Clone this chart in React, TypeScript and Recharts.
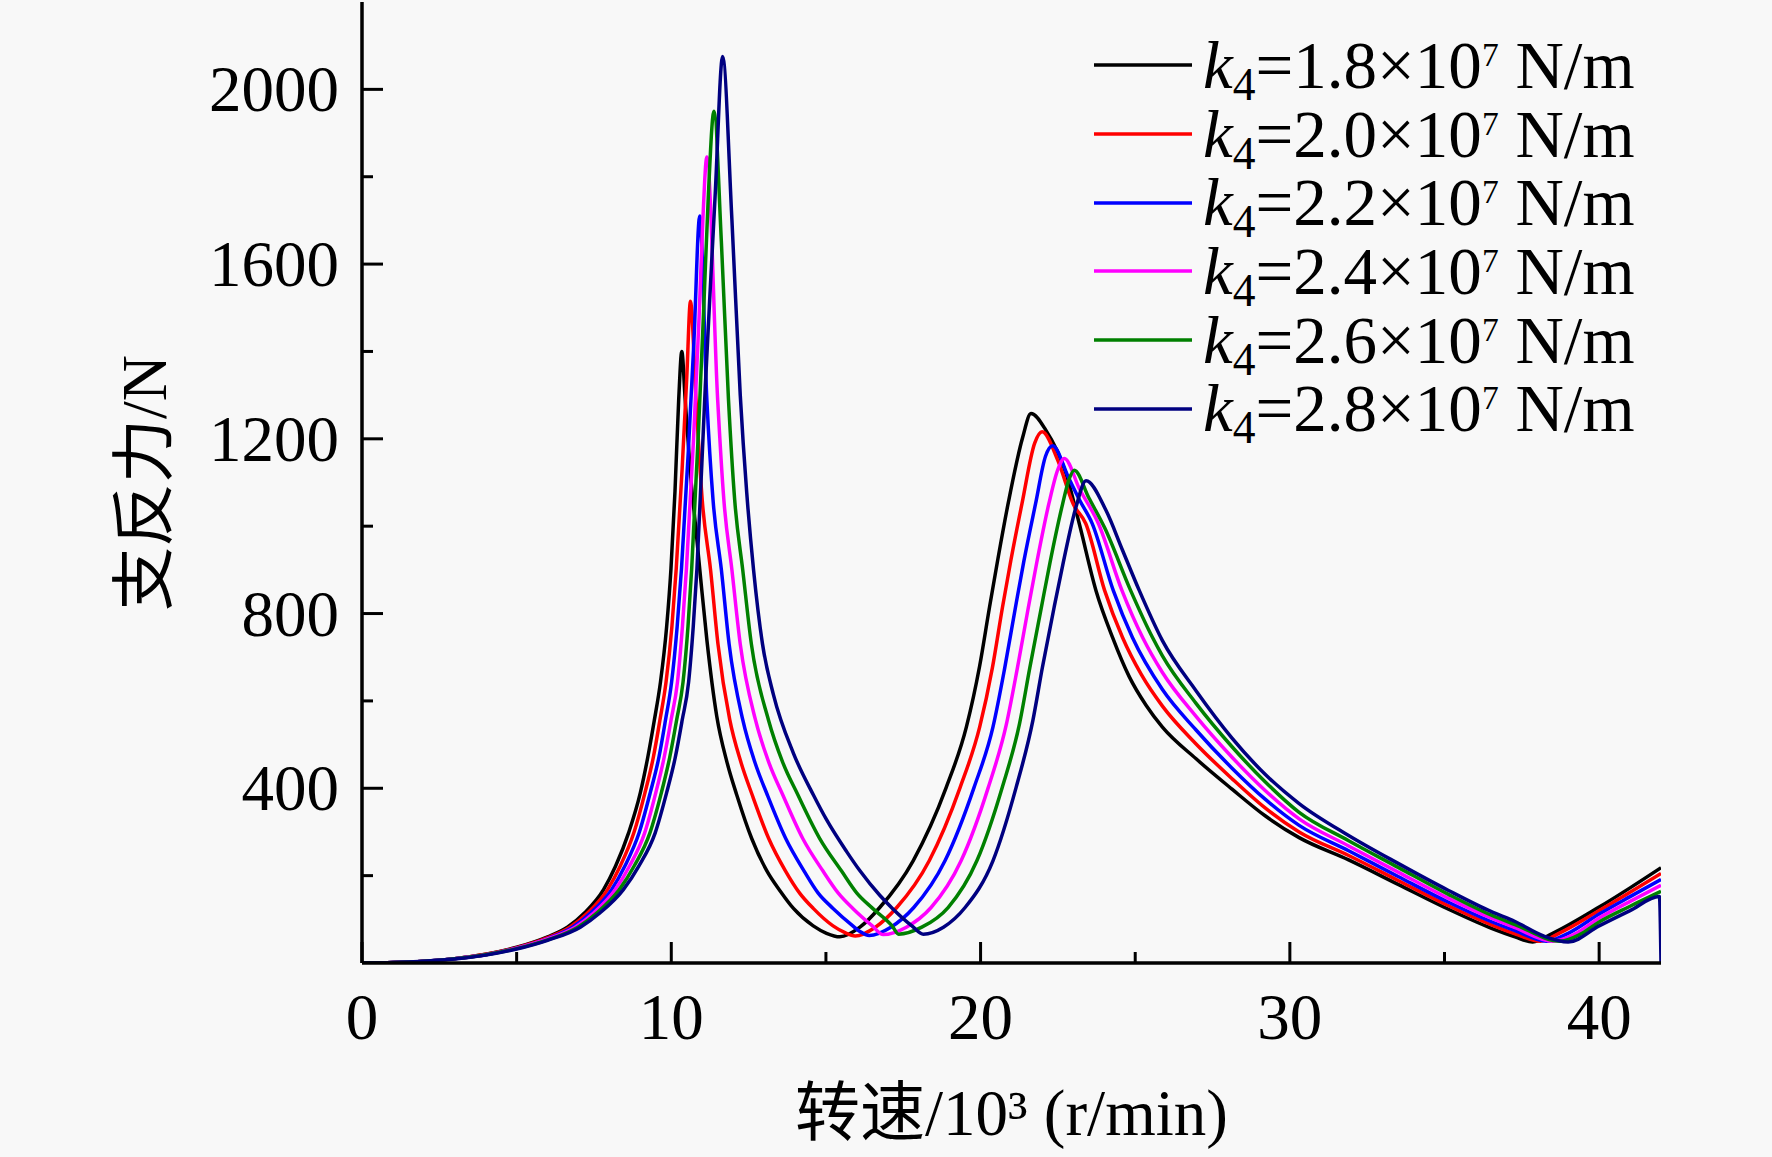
import React from 'react'
import { LineChart, Line, XAxis, YAxis, Legend } from 'recharts'

type Pt = [number, number]

// support force (N) vs speed (10^3 r/min), one list per stiffness k4
const k18: Pt[] = [
  [0, 0], [1, 1], [2, 4], [3, 10], [4, 20], [5, 36], [6, 60], [6.64, 82], [7.2, 115], [7.81, 168], [8.2, 222],
  [8.62, 298], [9.0, 390], [9.24, 471], [9.45, 555], [9.65, 643], [9.85, 770], [9.99, 903], [10.12, 1080],
  [10.24, 1290], [10.34, 1400], [10.45, 1289], [10.62, 1120], [10.8, 990], [10.95, 880], [11.15, 740],
  [11.47, 565], [11.8, 460], [12.12, 384], [12.6, 285], [13.09, 211], [13.52, 165], [13.95, 125], [14.59, 85],
  [15.02, 68], [15.45, 60], [16.1, 82], [16.74, 127], [17.82, 234], [18.89, 402], [19.54, 540], [19.97, 680],
  [20.29, 815], [20.56, 925], [20.9, 1055], [21.36, 1203], [21.63, 1258], [22.11, 1220], [22.76, 1121],
  [23.19, 1006], [23.73, 853], [24.27, 745], [24.81, 655], [25.35, 590], [25.88, 540], [26.96, 468],
  [28.13, 398], [29.2, 337], [30.3, 287], [31.9, 236], [33.5, 180], [35.13, 123], [36.5, 80], [37.28, 60],
  [37.85, 48], [38.5, 68], [40, 128], [41, 172], [42, 218],
]
const k20: Pt[] = [
  [0, 0], [1, 1], [2, 4], [3, 10], [4, 20], [5, 35], [6, 58], [6.72, 82], [7.3, 115], [7.94, 168], [8.35, 222],
  [8.79, 298], [9.15, 390], [9.42, 471], [9.63, 555], [9.83, 643], [10.02, 770], [10.16, 903], [10.35, 1130],
  [10.5, 1340], [10.62, 1515], [10.8, 1289], [11.0, 1060], [11.27, 900], [11.51, 730], [11.89, 557],
  [12.25, 460], [12.62, 384], [13.15, 285], [13.69, 211], [14.15, 160], [14.59, 125], [15.23, 85], [15.6, 70],
  [15.95, 62], [16.6, 82], [17.29, 127], [18.34, 234], [19.34, 402], [19.97, 540], [20.38, 675], [20.71, 815],
  [20.98, 922], [21.34, 1052], [21.75, 1190], [21.99, 1216], [22.5, 1150], [23.0, 1050], [23.4, 1006],
  [24.01, 853], [24.59, 745], [25.2, 660], [25.88, 588], [26.96, 502], [28.13, 422], [29.2, 355],
  [30.3, 300], [31.9, 246], [33.5, 189], [35.13, 131], [36.5, 88], [37.28, 67], [38.1, 50], [38.7, 68],
  [40, 120], [41, 162], [42, 205],
]
const k22: Pt[] = [
  [0, 0], [1, 1], [2, 4], [3, 10], [4, 19], [5, 34], [6, 56], [6.81, 82], [7.4, 115], [8.07, 168], [8.5, 222],
  [8.96, 298], [9.32, 390], [9.6, 471], [9.81, 555], [10.01, 643], [10.19, 770], [10.33, 903], [10.55, 1170],
  [10.73, 1420], [10.92, 1710], [11.15, 1289], [11.35, 1060], [11.62, 900], [11.87, 730], [12.31, 557],
  [12.7, 460], [13.11, 384], [13.7, 285], [14.29, 211], [14.75, 160], [15.23, 125], [15.87, 85], [16.1, 72],
  [16.4, 63], [17.1, 82], [17.84, 127], [18.85, 234], [19.79, 402], [20.4, 540], [20.78, 675], [21.13, 815],
  [21.4, 920], [21.78, 1052], [22.1, 1160], [22.33, 1184], [22.85, 1110], [23.2, 1060], [23.61, 1006],
  [24.29, 853], [24.91, 745], [25.88, 626], [26.96, 534], [28.13, 446], [29.2, 375], [30.3, 315], [31.9, 257],
  [33.5, 198], [35.13, 139], [36.5, 95], [37.28, 74], [38.3, 50], [39.0, 68], [40, 112], [41, 152], [42, 191],
]
const k24: Pt[] = [
  [0, 0], [1, 1], [2, 4], [3, 10], [4, 19], [5, 34], [6, 55], [6.89, 82], [7.5, 115], [8.19, 168], [8.65, 222],
  [9.14, 298], [9.5, 390], [9.77, 471], [9.99, 555], [10.2, 643], [10.36, 770], [10.49, 903], [10.72, 1200],
  [10.9, 1480], [11.02, 1700], [11.15, 1845], [11.5, 1289], [11.7, 1060], [11.96, 900], [12.23, 730],
  [12.72, 557], [13.15, 460], [13.61, 384], [14.25, 285], [14.9, 211], [15.4, 160], [15.87, 125], [16.5, 85],
  [16.85, 65], [17.6, 82], [18.4, 127], [19.37, 234], [20.25, 402], [20.83, 545], [21.19, 675], [21.54, 812],
  [21.82, 918], [22.21, 1052], [22.5, 1130], [22.71, 1155], [23.2, 1085], [23.81, 1006], [24.57, 853],
  [25.24, 745], [25.88, 665], [26.96, 565], [28.13, 471], [29.2, 395], [30.3, 330], [31.9, 268], [33.5, 208],
  [35.13, 148], [36.5, 103], [37.28, 81], [38.5, 50], [39.2, 66], [40, 103], [41, 141], [42, 178],
]
const k26: Pt[] = [
  [0, 0], [1, 1], [2, 4], [3, 10], [4, 19], [5, 33], [6, 53], [6.98, 82], [7.6, 115], [8.32, 168], [8.8, 222],
  [9.31, 298], [9.68, 390], [9.95, 471], [10.17, 555], [10.38, 643], [10.54, 770], [10.66, 903], [10.88, 1220],
  [11.05, 1500], [11.2, 1760], [11.38, 1950], [11.62, 1650], [11.85, 1289], [12.05, 1060], [12.31, 900],
  [12.59, 730], [13.14, 557], [13.6, 460], [14.1, 384], [14.8, 285], [15.5, 211], [16.0, 160], [16.51, 125],
  [17.14, 85], [17.35, 66], [18.1, 82], [18.95, 127], [19.88, 234], [20.7, 402], [21.26, 548], [21.59, 675],
  [21.96, 812], [22.24, 915], [22.65, 1050], [22.85, 1105], [23.03, 1128], [23.5, 1065], [24.02, 995],
  [24.85, 853], [25.56, 745], [25.88, 703], [26.96, 595], [28.13, 495], [29.2, 415], [30.3, 345], [31.9, 280],
  [33.5, 219], [35.13, 157], [36.5, 110], [37.28, 88], [38.75, 50], [39.4, 66], [40, 94], [41, 130], [42, 164],
]
const k28: Pt[] = [
  [0, 0], [1, 1], [2, 4], [3, 9], [4, 18], [5, 32], [6, 52], [7.06, 82], [7.7, 115], [8.45, 168], [8.95, 222],
  [9.48, 298], [9.85, 390], [10.13, 471], [10.35, 555], [10.56, 643], [10.71, 770], [10.83, 903], [11.1, 1320],
  [11.25, 1530], [11.42, 1760], [11.66, 2075], [11.96, 1702], [12.23, 1300], [12.44, 1076], [12.66, 900],
  [12.95, 730], [13.3, 615], [13.95, 480], [14.6, 384], [15.02, 328], [15.67, 255], [16.1, 211], [16.74, 155],
  [17.15, 125], [17.78, 85], [18.15, 66], [18.8, 82], [19.5, 127], [20.4, 234], [21.15, 402], [21.69, 555],
  [22.0, 677], [22.38, 815], [22.66, 912], [23.09, 1045], [23.41, 1104], [24.05, 1037], [24.59, 945],
  [25.13, 853], [25.88, 738], [26.96, 624], [28.13, 515], [29.2, 432], [30.3, 365], [31.9, 292], [33.5, 228],
  [35.13, 166], [36.5, 118], [37.28, 95], [38.2, 62], [39.0, 48], [40, 85], [41, 120], [41.95, 152], [42, 0],
]

const seriesValues = [k18, k20, k22, k24, k26, k28]
const seriesK = ['1.8', '2.0', '2.2', '2.4', '2.6', '2.8']
const seriesColors = ['#000000', '#ff0000', '#0000ff', '#ff00ff', '#008000', '#000080']

const xTicks = [0, 5, 10, 15, 20, 25, 30, 35, 40]
const xLabels = [0, 10, 20, 30, 40]
const yTicks = [200, 400, 600, 800, 1000, 1200, 1400, 1600, 1800, 2000]
const yLabels = [400, 800, 1200, 1600, 2000]

const SERIF = "'Liberation Serif', 'Times New Roman', serif"
const CJK = "'Liberation Serif', 'Noto Sans CJK SC', serif"
const X_GAP = 30
const Y_GAP = 23

const XTick = (props: any) => {
  const { x, y, payload } = props
  const major = xLabels.includes(payload.value)
  const axisY = y - X_GAP
  return (
    <g>
      <line x1={x} x2={x} y1={axisY} y2={axisY - (major ? 21 : 11)} stroke="#000" strokeWidth={3} />
      {major && (
        <text x={x} y={y} dy="0.71em" textAnchor="middle" fontFamily={SERIF} fontSize={65} fill="#000">
          {payload.value}
        </text>
      )}
    </g>
  )
}

const YTick = (props: any) => {
  const { x, y, payload } = props
  const major = yLabels.includes(payload.value)
  const axisX = x + Y_GAP
  return (
    <g>
      <line x1={axisX} x2={axisX + (major ? 21 : 11)} y1={y} y2={y} stroke="#000" strokeWidth={3} />
      {major && (
        <text x={x} y={y} dy="0.34em" textAnchor="end" fontFamily={SERIF} fontSize={65} fill="#000">
          {payload.value}
        </text>
      )}
    </g>
  )
}

const renderLegend = () => (
  <div style={{ fontFamily: SERIF, fontSize: 67, color: '#000' }}>
    {seriesK.map((k, i) => (
      <div key={k} style={{ display: 'flex', alignItems: 'center', height: 68.7, lineHeight: 1, whiteSpace: 'nowrap' }}>
        <svg width={98} height={8} style={{ display: 'block' }}>
          <line x1={0} x2={98} y1={4} y2={4} stroke={seriesColors[i]} strokeWidth={3.5} />
        </svg>
        <span style={{ marginLeft: 11 }}>
          <i>k</i>
          <span style={{ fontSize: '0.68em', position: 'relative', top: 12 }}>4</span>
          ={k}×10
          <span style={{ fontSize: '0.5em', position: 'relative', top: -22 }}>7</span> N/m
        </span>
      </div>
    ))}
  </div>
)

const XLabel = (props: any) => {
  const { viewBox } = props
  return (
    <text x={viewBox.x + viewBox.width / 2} y={viewBox.y + 172} textAnchor="middle" fontFamily={CJK} fontSize={65} fill="#000">
      转速/10³ (r/min)
    </text>
  )
}

const YLabel = () => (
  <text x={0} y={0} transform="translate(144, 483) rotate(-90)" textAnchor="middle" dominantBaseline="central" fontFamily={CJK} fontSize={64} fill="#000">
    支反力/N
  </text>
)

export default function App() {
  return (
    <div style={{ position: 'absolute', left: 0, top: 0, width: 1772, height: 1157, background: '#f8f8f8' }}>
      <LineChart width={1772} height={1157} margin={{ top: 2, right: 111, bottom: 0, left: 0 }}>
        <XAxis
          type="number"
          dataKey="x"
          domain={[0, 42]}
          allowDataOverflow
          ticks={xTicks}
          interval={0}
          tickSize={0}
          tickMargin={X_GAP}
          tickLine={false}
          tick={XTick}
          height={194}
          axisLine={{ stroke: '#000', strokeWidth: 3.5 }}
          label={<XLabel />}
        />
        <XAxis xAxisId="top" orientation="top" type="number" domain={[0, 42]} height={0} tick={false} tickLine={false} axisLine={{ stroke: '#000', strokeWidth: 3.5 }} />
        <YAxis
          type="number"
          domain={[0, 2200]}
          allowDataOverflow
          ticks={yTicks}
          interval={0}
          tickSize={0}
          tickMargin={Y_GAP}
          tickLine={false}
          tick={YTick}
          width={362}
          axisLine={{ stroke: '#000', strokeWidth: 3.5 }}
          label={<YLabel />}
        />
        <YAxis yAxisId="right" orientation="right" domain={[0, 2200]} width={0} tick={false} tickLine={false} axisLine={{ stroke: '#000', strokeWidth: 3.5 }} />
        <Legend
          layout="vertical"
          align="center"
          verticalAlign="middle"
          content={renderLegend}
          wrapperStyle={{ position: 'absolute', left: 1094, top: 31, width: 600, height: 420 }}
        />
        {seriesValues.map((vals, i) => (
          <Line
            key={seriesK[i]}
            data={vals.map(([x, y]) => ({ x, y }))}
            dataKey="y"
            type="monotoneX"
            stroke={seriesColors[i]}
            strokeWidth={3.5}
            dot={false}
            activeDot={false}
            isAnimationActive={false}
          />
        ))}
      </LineChart>
    </div>
  )
}
